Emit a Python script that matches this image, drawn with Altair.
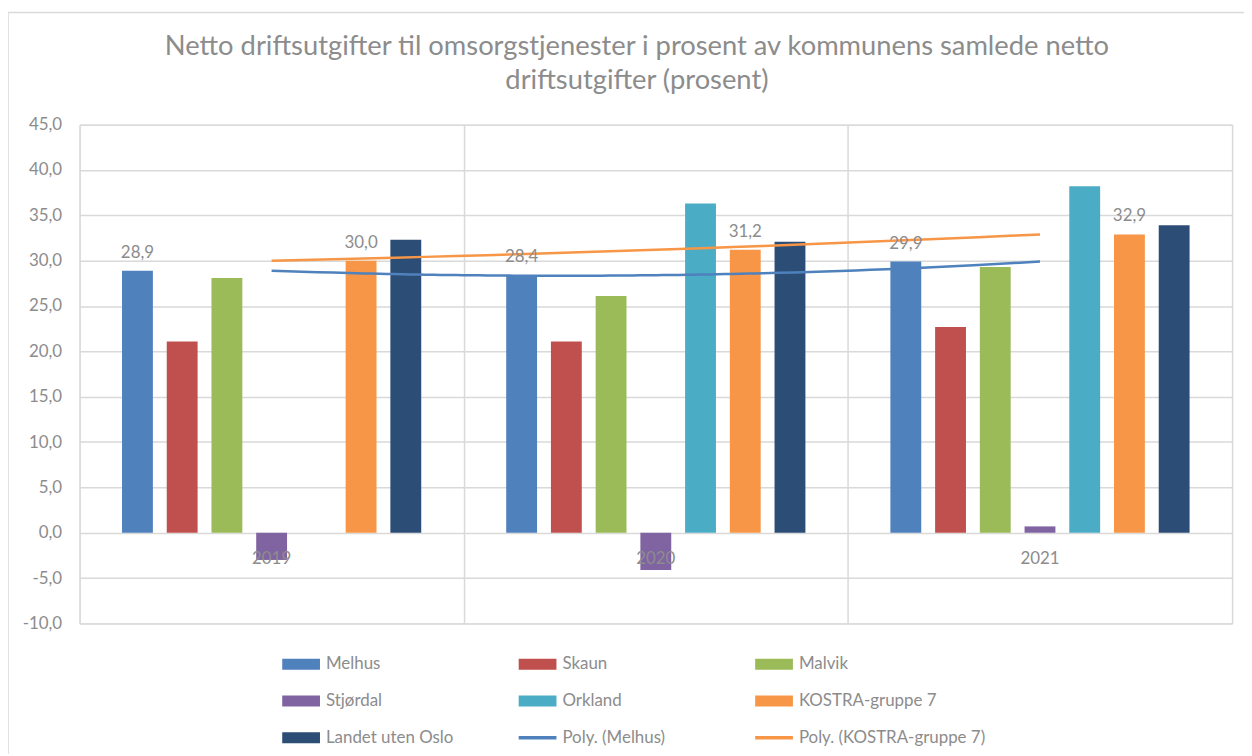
import altair as alt
import pandas as pd

# ---------------- data ----------------
years = ["2019", "2020", "2021"]
year_nums = [2019, 2020, 2021]
series_names = ["Melhus", "Skaun", "Malvik", "Stjørdal", "Orkland",
                "KOSTRA-gruppe 7", "Landet uten Oslo"]
melhus = [28.9, 28.4, 29.9]
skaun = [21.1, 21.1, 22.7]
malvik = [28.1, 26.1, 29.3]
stjordal = [-3.0, -4.1, 0.7]
orkland = [None, 36.3, 38.2]
kostra = [30.0, 31.2, 32.9]
landet = [32.3, 32.1, 33.9]
trend_names = ["Poly. (Melhus)", "Poly. (KOSTRA-gruppe 7)"]
labelled_series = ["Melhus", "KOSTRA-gruppe 7"]
y_ticks = [-10, -5, 0, 5, 10, 15, 20, 25, 30, 35, 40, 45]

title_lines = ["Netto driftsutgifter til omsorgstjenester i prosent av kommunens samlede netto",
               "driftsutgifter (prosent)"]

colors = ["#4F81BD", "#C0504D", "#9BBB59", "#8064A2", "#4BACC6",
          "#F79646", "#2C4D75", "#4F81BD", "#F79646"]

# ---------------- tables ----------------
values = [melhus, skaun, malvik, stjordal, orkland, kostra, landet]
rows = []
for name, vals in zip(series_names, values):
    for y, v in zip(years, vals):
        if v is not None:
            rows.append({"year": y, "series": name, "value": v})
bars_df = pd.DataFrame(rows)

trend_rows = []
for tname, vals in zip(trend_names, [melhus, kostra]):
    for yn, v in zip(year_nums, vals):
        trend_rows.append({"trend": tname, "yr": yn, "value": v})
trend_df = pd.DataFrame(trend_rows)

all_names = series_names + trend_names
legend_df = pd.DataFrame({"name": all_names})
year_df = pd.DataFrame({"year": years})

BAR_PATH = "M-1,-0.29L1,-0.29L1,0.29L-1,0.29Z"
LINE_PATH = "M-1,-0.09L1,-0.09L1,0.09L-1,0.09Z"
shapes = [BAR_PATH] * len(series_names) + [LINE_PATH] * len(trend_names)

FONT = "Lato"
GRAY = "#8c8c8c"
GRID = "#d9d9d9"
NUM_EXPR = "replace(replace(format(datum.value, '.1f'), '.', ','), '\u2212', '-')"

color_scale = alt.Scale(domain=all_names, range=colors)
legend_spec = alt.Legend(
    title=None, orient="none", legendX=204, legendY=524, columns=3,
    direction="horizontal",
    gridAlign="all", columnPadding=6, rowPadding=10, symbolSize=1444,
    labelFontSize=17, labelFont=FONT, labelColor=GRAY, labelOffset=6,
    symbolOpacity=1, symbolStrokeWidth=0, labelLimit=400,
)

x_scale = alt.Scale(domain=years, paddingInner=0, paddingOuter=0)
xoff_scale = alt.Scale(domain=series_names, paddingInner=0.31, paddingOuter=0.95)
y_scale = alt.Scale(domain=[-10, 45], nice=False, zero=False)

bars = alt.Chart(bars_df).mark_bar().encode(
    x=alt.X("year:N", scale=x_scale,
            axis=alt.Axis(title=None, labels=False, ticks=False, domain=False,
                          grid=True, tickBand="extent", gridColor=GRID, gridWidth=1.5)),
    xOffset=alt.XOffset("series:N", scale=xoff_scale),
    y=alt.Y("value:Q", scale=y_scale,
            axis=alt.Axis(title=None, values=y_ticks, ticks=False, domain=False,
                          grid=True, gridColor=GRID, gridWidth=1.5,
                          labelFont=FONT, labelFontSize=17, labelColor=GRAY,
                          labelPadding=18,
                          labelExpr=NUM_EXPR)),
    color=alt.Color("series:N", scale=color_scale, legend=legend_spec),
)

labels = alt.Chart(bars_df).transform_filter(
    alt.FieldOneOfPredicate(field="series", oneOf=labelled_series)
).transform_calculate(
    label="replace(format(datum.value, '.1f'), '.', ',')"
).mark_text(baseline="alphabetic", dy=-13, fontSize=17, font=FONT, color=GRAY).encode(
    x=alt.X("year:N", scale=x_scale, axis=None),
    xOffset=alt.XOffset("series:N", scale=xoff_scale),
    y=alt.Y("value:Q"),
    text="label:N",
)

year_labels = alt.Chart(year_df).mark_text(
    baseline="alphabetic", dy=31, fontSize=17, font=FONT, color=GRAY
).encode(
    x=alt.X("year:N", scale=x_scale, axis=None),
    y=alt.datum(0),
    text="year:N",
)

trends = alt.Chart(trend_df).transform_regression(
    "yr", "value", method="poly", order=2, groupby=["trend"], extent=[2019, 2021]
).mark_line(strokeWidth=2.5).encode(
    x=alt.X("yr:Q", scale=alt.Scale(domain=[2018.5, 2021.5], nice=False, zero=False), axis=None),
    y=alt.Y("value:Q"),
    color=alt.Color("trend:N", scale=color_scale, legend=legend_spec),
)

legend_layer = alt.Chart(legend_df).mark_point(filled=True).encode(
    x=alt.value(0), y=alt.value(0), opacity=alt.value(0),
    color=alt.Color("name:N", scale=color_scale, legend=legend_spec),
    shape=alt.Shape("name:N", scale=alt.Scale(domain=all_names, range=shapes), legend=legend_spec),
)

frame = alt.Chart(pd.DataFrame({"a": [0]})).mark_rect(
    fillOpacity=0, stroke=GRID, strokeWidth=1.5, clip=False
).encode(
    x=alt.value(-72), x2=alt.value(1200), y=alt.value(-113), y2=alt.value(700)
)

chart = alt.layer(frame, bars, trends, labels, year_labels, legend_layer).resolve_scale(
    x="independent"
).properties(
    width=1160, height=502,
    padding={"left": 72, "top": 115, "right": 12, "bottom": 129},
    autosize=alt.AutoSizeParams(type="none"),
    title=alt.TitleParams(text=title_lines, fontSize=27.5, font=FONT, color=GRAY,
                          fontWeight="normal", anchor="middle", dx=-19, offset=-83,
                          lineHeight=34),
).configure_view(
    fill="#f3f3f3", stroke=GRID, strokeWidth=1.5
).configure(background="white")

chart.save("out.html", embed_options={"renderer": "svg", "actions": False})
